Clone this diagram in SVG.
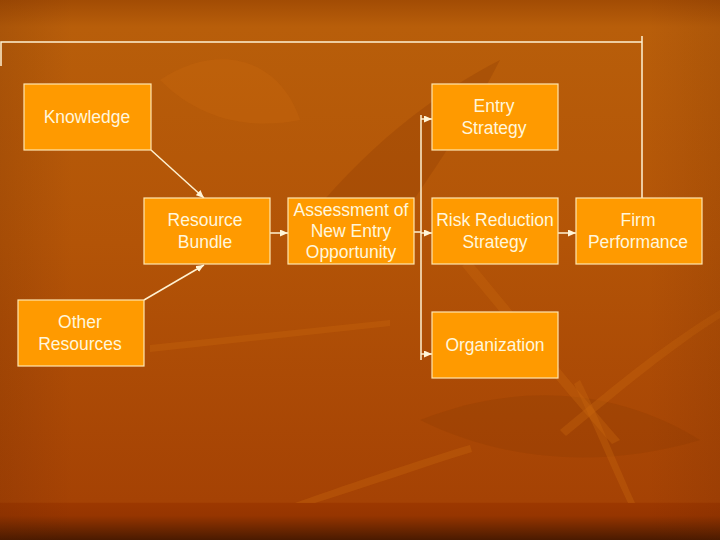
<svg xmlns="http://www.w3.org/2000/svg" width="720" height="540" viewBox="0 0 720 540">
<defs>
<linearGradient id="bg" x1="0" y1="0" x2="0" y2="1">
<stop offset="0" stop-color="#a24c04"/>
<stop offset="0.05" stop-color="#b85e0a"/>
<stop offset="0.45" stop-color="#b35407"/>
<stop offset="0.93" stop-color="#a54204"/>
<stop offset="0.932" stop-color="#9c3800"/>
<stop offset="0.955" stop-color="#963500"/>
<stop offset="1" stop-color="#4a1a00"/>
</linearGradient>
<linearGradient id="side" x1="0" y1="0" x2="1" y2="0">
<stop offset="0" stop-color="#5a2000" stop-opacity="0.15"/>
<stop offset="0.1" stop-color="#5a2000" stop-opacity="0"/>
<stop offset="0.9" stop-color="#5a2000" stop-opacity="0"/>
<stop offset="1" stop-color="#5a2000" stop-opacity="0.12"/>
</linearGradient>
<marker id="ah" viewBox="0 0 10 10" refX="10" refY="5" markerWidth="8" markerHeight="7" orient="auto" markerUnits="userSpaceOnUse" preserveAspectRatio="none">
<path d="M0,0 L10,5 L0,10 Z" fill="#fff5d8"/>
</marker>
<style>
.box{fill:#ff9a00;stroke:#ffe6b0;stroke-width:1.2}
.t{font-family:"Liberation Sans",Arial,sans-serif;font-size:17.5px;fill:#fff6dc;text-anchor:middle}
.c{fill:none;stroke:#fff2d2;stroke-width:1.5}
.leaf{fill:#c8680e;opacity:0.35}
.dark{fill:#8f3a02;opacity:0.3}
</style>
</defs>
<rect width="720" height="540" fill="url(#bg)"/>
<g id="decor">
<path class="dark" d="M300,230 C360,150 440,90 500,60 C470,120 420,190 380,250 Z"/>
<path class="leaf" d="M160,80 C220,40 280,60 300,120 C250,130 200,120 160,80 Z"/>
<path class="dark" d="M420,420 C520,380 620,390 700,440 C600,470 500,460 420,420 Z"/>
<path class="leaf" d="M150,345 L390,320 L390,326 L150,352 Z"/>
<path class="leaf" d="M470,260 C520,320 560,370 620,440 L612,444 C552,376 512,326 462,266 Z"/>
<path class="leaf" d="M560,430 C620,380 670,340 720,310 L720,318 C672,348 622,390 566,436 Z"/>
<path class="leaf" d="M295,503 C360,480 420,460 470,445 L472,452 C420,468 370,486 315,503 Z"/>
<path class="leaf" d="M580,380 C600,420 620,470 635,503 L628,503 C612,470 594,425 574,384 Z"/>
</g>
<rect width="720" height="540" fill="url(#side)"/>
<g id="connectors">
<path class="c" d="M1,66 L1,42 L642,42 M642,36 L642,198"/>
<path class="c" d="M151,150 L204,198" marker-end="url(#ah)"/>
<path class="c" d="M144,300 L204,265" marker-end="url(#ah)"/>
<path class="c" d="M270,233 L288,233" marker-end="url(#ah)"/>
<path class="c" d="M414,232 L421,232"/>
<path class="c" d="M421,115 L421,360"/>
<path class="c" d="M421,119 L432,119" marker-end="url(#ah)"/>
<path class="c" d="M421,233 L432,233" marker-end="url(#ah)"/>
<path class="c" d="M421,354 L432,354" marker-end="url(#ah)"/>
<path class="c" d="M558,233 L576,233" marker-end="url(#ah)"/>
</g>
<g id="knowledge"><rect class="box" x="24" y="84" width="127" height="66"/><text class="t" x="87" y="123">Knowledge</text></g>
<g id="entry-strategy"><rect class="box" x="432" y="84" width="126" height="66"/><text class="t" x="494" y="112">Entry</text><text class="t" x="494" y="134">Strategy</text></g>
<g id="resource-bundle"><rect class="box" x="144" y="198" width="126" height="66"/><text class="t" x="205" y="226">Resource</text><text class="t" x="205" y="248">Bundle</text></g>
<g id="assessment"><rect class="box" x="288" y="198" width="126" height="66"/><text class="t" x="351" y="216">Assessment of</text><text class="t" x="351" y="237">New Entry</text><text class="t" x="351" y="258">Opportunity</text></g>
<g id="risk-reduction"><rect class="box" x="432" y="198" width="126" height="66"/><text class="t" x="495" y="226">Risk Reduction</text><text class="t" x="495" y="248">Strategy</text></g>
<g id="firm-performance"><rect class="box" x="576" y="198" width="126" height="66"/><text class="t" x="638" y="226">Firm</text><text class="t" x="638" y="248">Performance</text></g>
<g id="other-resources"><rect class="box" x="18" y="300" width="126" height="66"/><text class="t" x="80" y="328">Other</text><text class="t" x="80" y="350">Resources</text></g>
<g id="organization"><rect class="box" x="432" y="312" width="126" height="66"/><text class="t" x="495" y="351">Organization</text></g>
</svg>
